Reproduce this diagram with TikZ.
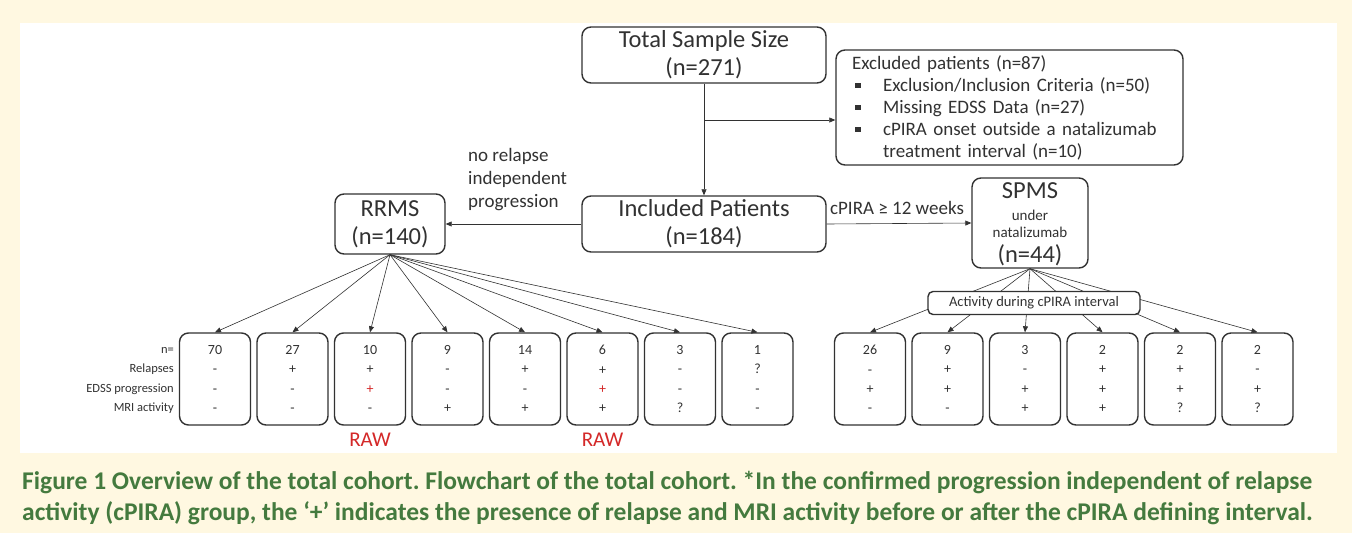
\documentclass[tikz,border=0pt]{standalone}
\usepackage{fontspec}
\setmainfont{Carlito}
\usetikzlibrary{arrows.meta}
\frenchspacing
\definecolor{cream}{RGB}{255,248,225}
\definecolor{capgreen}{RGB}{68,122,62}
\definecolor{rawred}{RGB}{212,40,40}
\definecolor{ink}{RGB}{50,50,50}
\newcommand{\bul}{\hspace*{3pt}\rule[3pt]{5.5pt}{5.5pt}\hspace*{22.5pt}}
\newcommand{\redplus}{\textcolor{rawred}{+}}
\tikzset{
  box/.style={draw=ink, line width=1.4pt, rounded corners=9pt, fill=white, align=center, inner sep=0pt, text=ink},
  bigbox/.style={box, minimum width=244pt, minimum height=56pt, font=\fontsize{24.5}{28}\selectfont},
  cell/.style={box, minimum width=71pt, minimum height=92pt, font=\fontsize{14}{19.3}\selectfont},
  arr/.style={-{Triangle[length=6pt,width=5pt]}, line width=0.6pt, draw=ink},
  rowlab/.style={anchor=east, inner sep=0pt, text=ink, font=\fontsize{12.5}{14}\selectfont},
  side/.style={inner sep=0pt, text=ink, font=\fontsize{19}{23}\selectfont},
  spmsbig/.style={inner sep=0pt, text=ink, font=\fontsize{24.5}{26}\selectfont},
  spmssmall/.style={inner sep=0pt, text=ink, font=\fontsize{15}{16}\selectfont},
  raw/.style={inner sep=0pt, text=rawred, font=\fontsize{21}{22}\selectfont},
  caption/.style={anchor=base west, inner sep=0pt, text=capgreen, font=\bfseries\fontsize{25.5}{28}\selectfont}
}
\begin{document}
\begin{tikzpicture}[x=1pt,y=-1pt]
  \useasboundingbox (0,0) rectangle (1352,533);
  \fill[cream] (0,0) rectangle (1352,533);
  \fill[white] (20,23) rectangle (1337,453);
  % Top of the flow
  \node[bigbox] (total) at (704,55) {Total Sample Size\\(n=271)};
  \node[bigbox] (incl) at (704,224) {Included Patients\\(n=184)};
  \node[box, align=left, text width=315pt, inner xsep=16pt, minimum height=115pt,
        font=\fontsize{19}{22}\selectfont] (excl) at (1009.5,107.5)
    {Excluded patients (n=87)\\
     \bul Exclusion/Inclusion Criteria (n=50)\\
     \bul Missing EDSS Data (n=27)\\
     \bul cPIRA onset outside a natalizumab\\
     \hspace*{31pt}treatment interval (n=10)};
  \draw[arr] (total) -- (incl);
  \coordinate (brk) at (704,120);
  \draw[arr] (brk) -- (brk -| excl.west);
  % Groups
  \node[box, minimum width=110pt, minimum height=60pt, font=\fontsize{24.5}{28}\selectfont] (rrms) at (390,224) {RRMS\\(n=140)};
  \node[box, minimum width=116pt, minimum height=90pt] (spms) at (1030,223) {};
  \node[spmsbig] (spmsa) at (1030,191) {SPMS};
  \node[spmssmall] (spmsb) at (1030,215) {under};
  \node[spmssmall] (spmsc) at (1030,232) {natalizumab};
  \node[spmsbig] (spmsd) at (1030,255) {(n=44)};
  \draw[arr] (incl.west) -- (rrms.east);
  \draw[arr] (incl.east) -- (spms.west);
  \node[side, anchor=west, align=left] (nrlab) at (468,180) {no relapse\\independent\\progression};
  \node[side] (wklab) at (897,208) {cPIRA ≥ 12 weeks};
  % RRMS subgroups
  \node[rowlab] (hn) at (174,350) {n=};
  \node[rowlab] (hrel) at (174,369) {Relapses};
  \node[rowlab] (hedss) at (174,389) {EDSS progression};
  \node[rowlab] (hmri) at (174,408) {MRI activity};
  \foreach \n/\r/\e/\m [count=\i] in {70/-/-/-, 27/+/-/-, 10/+/\redplus/-, 9/-/-/+,
      14/+/-/+, 6/+/\redplus/+, 3/-/-/?, 1/?/-/-} {
    \node[cell] (l\i) at ({215+77.5*(\i-1)},379) {\n\\\r\\\e\\\m};
    \draw[arr] (rrms.south) -- (l\i.north);
  }
  \node[raw] (raw3) at (l3.south |- 0,440) {RAW};
  \node[raw] (raw6) at (l6.south |- 0,440) {RAW};
  % SPMS subgroups
  \foreach \n/\r/\e/\m [count=\i] in {26/-/+/-, 9/+/+/-, 3/-/+/+, 2/+/+/+, 2/+/+/?, 2/-/+/?} {
    \node[cell] (s\i) at ({870+77.5*(\i-1)},379) {\n\\\r\\\e\\\m};
    \draw[arr] (spms.south) -- (s\i.north);
  }
  \node[box, rounded corners=5pt, minimum width=212pt, minimum height=23pt,
        font=\fontsize{14.5}{16}\selectfont] (act) at (1034,303) {Activity during cPIRA interval};
  % Caption
  \node[caption] (cap1) at (22,489) {Figure 1 Overview of the total cohort. Flowchart of the total cohort. *In the confirmed progression independent of relapse};
  \node[caption] (cap2) at (22,520) {activity (cPIRA) group, the ‘+’ indicates the presence of relapse and MRI activity before or after the cPIRA defining interval.};
\end{tikzpicture}
\end{document}
